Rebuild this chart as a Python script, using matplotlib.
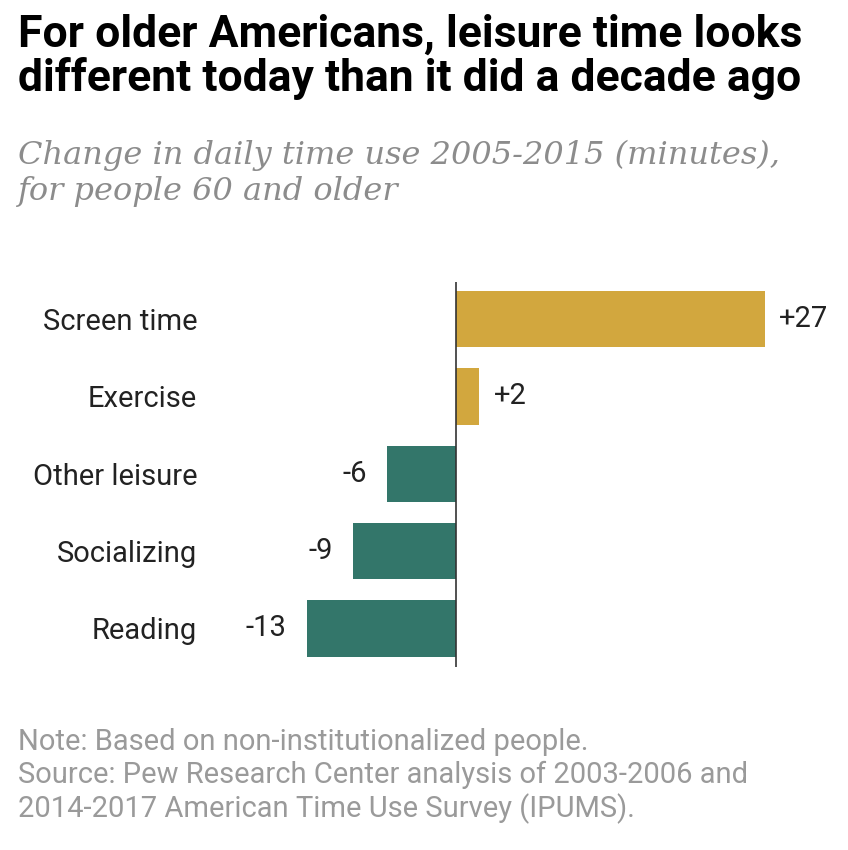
import matplotlib
matplotlib.use("Agg")
import matplotlib.pyplot as plt

categories = ["Screen time", "Exercise", "Other leisure", "Socializing", "Reading"]
changes = [27, 2, -6, -9, -13]
value_labels = ["+27", "+2", "-6", "-9", "-13"]

gold = "#D2A73E"
teal = "#33766A"
grey = "#8C8C8C"

fig = plt.figure(figsize=(8.48, 8.5), dpi=100)
W, H = 848, 850

# title / subtitle
fig.text(18 / W, 1 - 14 / H, "For older Americans, leisure time looks\ndifferent today than it did a decade ago",
         fontsize=32, fontweight="bold", family="Roboto", va="top", ha="left", linespacing=1.03)
fig.text(18 / W, 1 - 140 / H, "Change in daily time use 2005-2015 (minutes),\nfor people 60 and older",
         fontsize=23, style="italic", family="DejaVu Serif", color=grey, va="top", ha="left",
         linespacing=1.2)

ax = fig.add_axes([200 / W, 1 - 667 / H, 640 / W, 385 / H])
ypos = list(range(len(categories)))
colors = [gold if v > 0 else teal for v in changes]
ax.barh(ypos, changes, height=0.73, color=colors)
ax.set_xlim(-22.4, 33.6)
ax.set_ylim(4.5, -0.48)
ax.axvline(0, color="#333333", lw=1.2)
for y, v, lab in zip(ypos, changes, value_labels):
    off = 1.3 if v > 0 else -1.8
    ax.text(v + off, y, lab, ha="left" if v > 0 else "right", va="center",
            fontsize=21, family="Roboto", color="#222222")
ax.set_yticks(ypos)
ax.set_yticklabels(categories, fontsize=21, family="Roboto", color="#222222")
ax.tick_params(axis="y", length=0, pad=2)
ax.set_xticks([])
for s in ax.spines.values():
    s.set_visible(False)

fig.text(18 / W, 1 - 776 / H,
         "Note: Based on non-institutionalized people.\n"
         "Source: Pew Research Center analysis of 2003-2006 and\n"
         "2014-2017 American Time Use Survey (IPUMS).",
         fontsize=21, family="Roboto", color="#9A9A9A", va="center", ha="left", linespacing=1.2)

fig.savefig("out.png", dpi=100)
